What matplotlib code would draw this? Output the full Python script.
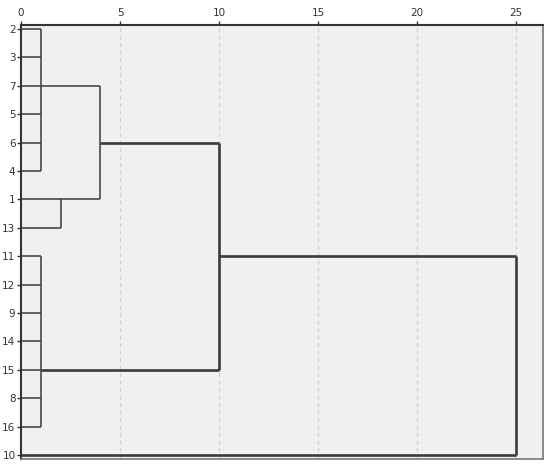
import matplotlib
matplotlib.use("Agg")
import matplotlib.pyplot as plt

# Leaf order (top to bottom)
leaves = ['2', '3', '7', '5', '6', '4', '1', '13', '11', '12', '9', '14', '15', '8', '16', '10']

# Merges: members (leaf labels or cluster names), rescaled distance, row where node is drawn
merge_names = ['A', 'C13', 'B', 'AC', 'ACB', 'ALL']
merge_members = [
    ['2', '3', '7', '5', '6', '4'],
    ['1', '13'],
    ['11', '12', '9', '14', '15', '8', '16'],
    ['A', 'C13'],
    ['AC', 'B'],
    ['ACB', '10'],
]
merge_dist = [1, 2, 1, 4, 10, 25]
merge_row = ['7', '1', '15', '6', '11', '11']
thick_merge = [False, False, False, False, True, True]

xticks = [0, 5, 10, 15, 20, 25]

fig = plt.figure(figsize=(5.5, 4.68), dpi=100)
ax = fig.add_axes([21/550, 1-459/468, (543-21)/550, (459-25)/468])
ax.set_facecolor('#f0f0f0')

pos = {lab: i for i, lab in enumerate(leaves)}
xpos = {lab: 0.0 for lab in leaves}
col = '#3a3a3a'
thin, thick = 1.1, 1.9

for name, mem, d, row, tk in zip(merge_names, merge_members, merge_dist, merge_row, thick_merge):
    ys = [pos[m] for m in mem]
    lw = thick if tk else thin
    for m in mem:
        mlw = thick if (tk or m in ('AC', 'B')) else thin
        if name in ('AC',) and m == 'A':
            mlw = thin
        ax.plot([xpos[m], d], [pos[m], pos[m]], color=col, lw=mlw, solid_capstyle='butt', zorder=3)
    ax.plot([d, d], [min(ys), max(ys)], color=col, lw=lw, solid_capstyle='butt', zorder=3)
    pos[name] = leaves.index(row)
    xpos[name] = d

# fix thickness of the AC->ACB link (drawn thick)
ax.set_xlim(0, (543-21)/19.8)
ax.set_ylim(15.14, -0.14)

for x in xticks[1:]:
    ax.axvline(x, color='#cfcfcf', lw=0.9, ls=(0, (3, 3)), zorder=1)

ax.xaxis.tick_top()
ax.set_xticks(xticks)
ax.set_xticklabels([str(t) for t in xticks])
ax.set_yticks(range(len(leaves)))
ax.set_yticklabels(leaves)
ax.tick_params(axis='both', labelsize=7.5, colors='#333333', length=3, width=1, pad=1)
ax.tick_params(axis='x', pad=2)

for s in ['top', 'left']:
    ax.spines[s].set_color('#333333')
    ax.spines[s].set_linewidth(1.5)
for s in ['right', 'bottom']:
    ax.spines[s].set_color('#777777')
    ax.spines[s].set_linewidth(1.2)

fig.savefig('out.png', dpi=100)
